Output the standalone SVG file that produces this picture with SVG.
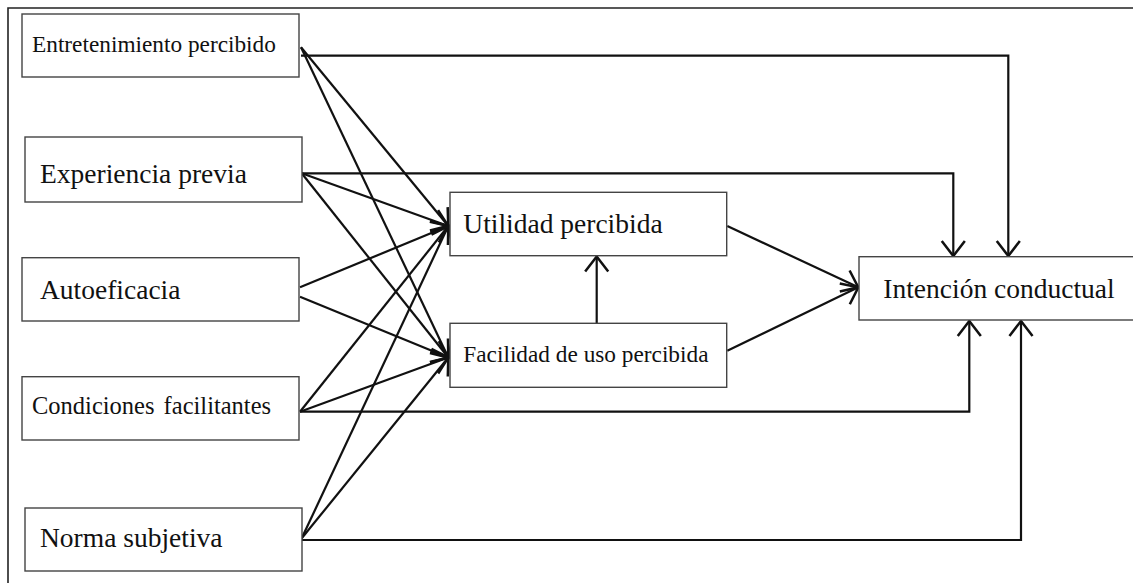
<svg xmlns="http://www.w3.org/2000/svg" width="1133" height="583" viewBox="0 0 1133 583">
  <style>
    .box { fill: #ffffff; stroke: #444444; stroke-width: 1.4; }
    .lbl { font-family: "Liberation Serif", Tinos, "Times New Roman", "DejaVu Serif", serif; fill: #111111; }
    .big { font-size: 27.5px; }
    .small { font-size: 23.3px; }
    .mid { font-size: 24.5px; word-spacing: 3px; }
    .edge { fill: none; stroke: #111111; stroke-width: 2.2; }
    .frame { fill: none; stroke: #222222; stroke-width: 1.6; }
  </style>
  <defs>
    <marker id="arrow" markerUnits="userSpaceOnUse" markerWidth="30" markerHeight="30" viewBox="-16 -13 20 26" refX="0" refY="0" orient="auto">
      <path d="M-13,-10 L0,0 L-13,10" fill="none" stroke="#111111" stroke-width="2.2"/>
    </marker>
  </defs>

  <rect width="1133" height="583" fill="#ffffff"/>
  <!-- outer frame (top and left edges) -->
  <path class="frame" d="M8,583 L8,8 L1133,8"/>

  <g id="connectors">
    <!-- direct paths to behavioural intention -->
    <path class="edge" marker-end="url(#arrow)" d="M301,55.7 L1008.3,55.7 L1008.3,256"/>
    <path class="edge" marker-end="url(#arrow)" d="M301.7,173.3 L953.3,173.3 L953.3,256"/>
    <path class="edge" marker-end="url(#arrow)" d="M300,411.7 L969.3,411.7 L969.3,321"/>
    <path class="edge" marker-end="url(#arrow)" d="M301.7,540 L1021,540 L1021,321"/>

    <!-- antecedents to perceived usefulness -->
    <line class="edge" marker-end="url(#arrow)" x1="301" y1="47.3" x2="448.3" y2="226"/>
    <line class="edge" marker-end="url(#arrow)" x1="301.7" y1="173.3" x2="448.3" y2="226"/>
    <line class="edge" marker-end="url(#arrow)" x1="300" y1="287.3" x2="448.3" y2="226"/>
    <line class="edge" marker-end="url(#arrow)" x1="300" y1="411.7" x2="448.3" y2="226"/>
    <line class="edge" marker-end="url(#arrow)" x1="301.7" y1="538.3" x2="448.3" y2="226"/>

    <!-- antecedents to perceived ease of use -->
    <line class="edge" marker-end="url(#arrow)" x1="301" y1="47.3" x2="448.3" y2="357.5"/>
    <line class="edge" marker-end="url(#arrow)" x1="301.7" y1="173.3" x2="448.3" y2="357.5"/>
    <line class="edge" marker-end="url(#arrow)" x1="300" y1="296.7" x2="448.3" y2="357.5"/>
    <line class="edge" marker-end="url(#arrow)" x1="300" y1="411.7" x2="448.3" y2="357.5"/>
    <line class="edge" marker-end="url(#arrow)" x1="301.7" y1="538.3" x2="448.3" y2="357.5"/>

    <!-- ease of use to usefulness -->
    <line class="edge" marker-end="url(#arrow)" x1="596.7" y1="323.3" x2="596.7" y2="256.5"/>

    <!-- mediators to intention -->
    <line class="edge" marker-end="url(#arrow)" x1="727.3" y1="226" x2="858.3" y2="287.3"/>
    <line class="edge" marker-end="url(#arrow)" x1="727.3" y1="350.7" x2="858.3" y2="287.3"/>
  </g>

  <g id="entretenimiento">
    <rect class="box" x="22" y="14" width="277" height="63"/>
    <text class="lbl small" x="32" y="52">Entretenimiento percibido</text>
  </g>
  <g id="experiencia">
    <rect class="box" x="25" y="137" width="277" height="65"/>
    <text class="lbl big" x="40" y="182.7">Experiencia previa</text>
  </g>
  <g id="autoeficacia">
    <rect class="box" x="22" y="257.7" width="277" height="63.3"/>
    <text class="lbl big" x="40" y="299">Autoeficacia</text>
  </g>
  <g id="condiciones">
    <rect class="box" x="22" y="376.7" width="277" height="63.3"/>
    <text class="lbl mid" x="32" y="414">Condiciones facilitantes</text>
  </g>
  <g id="norma">
    <rect class="box" x="25" y="508" width="277" height="63"/>
    <text class="lbl big" x="40" y="546.7">Norma subjetiva</text>
  </g>
  <g id="utilidad">
    <rect class="box" x="450" y="192.3" width="276.7" height="63.4"/>
    <text class="lbl big" x="463.3" y="232.7">Utilidad percibida</text>
  </g>
  <g id="facilidad">
    <rect class="box" x="450" y="323.3" width="276.7" height="64"/>
    <text class="lbl small" x="463.3" y="362.3">Facilidad de uso percibida</text>
  </g>
  <g id="intencion">
    <rect class="box" x="859" y="256.7" width="280" height="63.3"/>
    <text class="lbl big" x="883.3" y="297.7">Intención conductual</text>
  </g>
</svg>
